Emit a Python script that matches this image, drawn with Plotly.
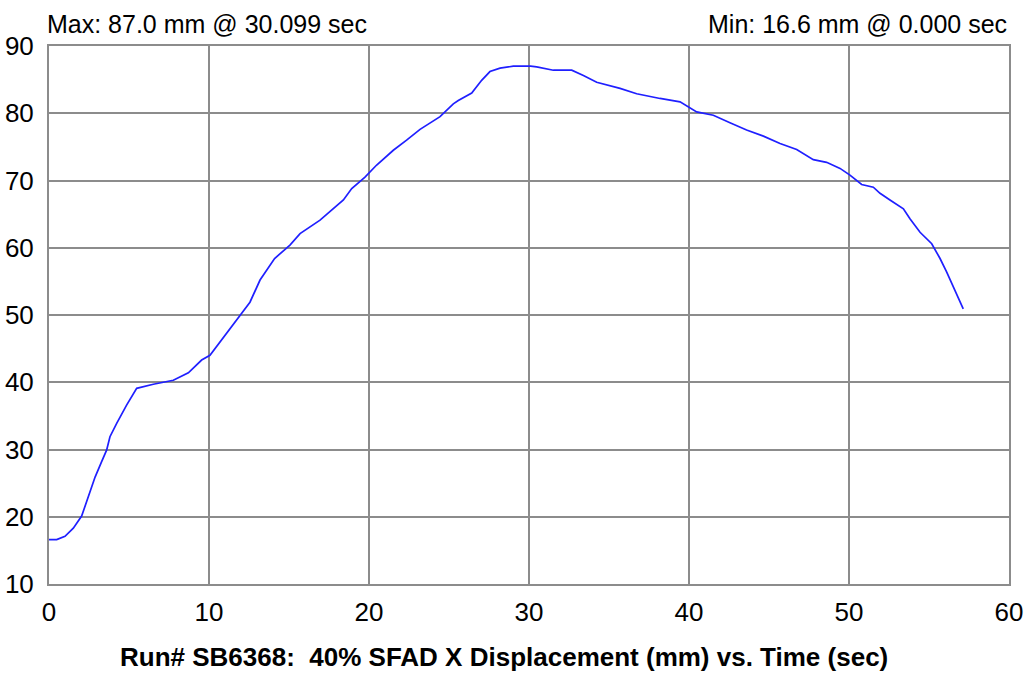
import plotly.graph_objects as go

time_s = [0.0, 0.48, 1.0, 1.52, 2.04, 2.56, 2.88, 3.29, 3.6, 3.81, 4.23, 4.85, 5.48,
          6.52, 7.77, 8.71, 9.54, 10.06, 10.48, 11.1, 11.94, 12.56, 13.19, 14.1, 15.06,
          15.69, 16.94, 17.77, 18.4, 18.92, 19.75, 20.48, 21.52, 22.35, 23.19, 24.44,
          25.27, 25.58, 26.42, 27.04, 27.56, 28.19, 29.02, 30.1, 30.48, 31.52, 32.67,
          33.4, 34.23, 35.69, 36.73, 38.19, 39.44, 40.48, 41.52, 42.56, 43.6, 44.65,
          45.69, 46.73, 47.77, 48.6, 49.44, 50.06, 50.79, 51.52, 51.94, 52.56, 53.4,
          53.81, 54.44, 55.17, 55.69, 56.1, 56.52, 57.14]
disp_mm = [16.6, 16.6, 17.1, 18.3, 20.1, 23.5, 25.9, 28.2, 29.9, 31.9, 33.9, 36.6, 39.1,
           39.7, 40.3, 41.4, 43.3, 44.0, 45.3, 47.2, 49.8, 51.9, 55.2, 58.4, 60.4,
           62.1, 64.1, 65.8, 67.1, 68.8, 70.5, 72.3, 74.5, 76.0, 77.6, 79.5,
           81.4, 81.9, 83.0, 84.9, 86.2, 86.7, 87.0, 87.0, 86.9, 86.4, 86.4,
           85.6, 84.6, 83.7, 82.9, 82.2, 81.7, 80.2, 79.7, 78.6, 77.5, 76.6,
           75.5, 74.6, 73.1, 72.7, 71.8, 70.8, 69.4, 69.0, 68.1, 67.1, 65.8,
           64.3, 62.3, 60.6, 58.4, 56.4, 54.2, 50.9]

x_ticks = [0, 10, 20, 30, 40, 50, 60]
y_ticks = [10, 20, 30, 40, 50, 60, 70, 80, 90]

title_text = "Run# SB6368:  40% SFAD X Displacement (mm) vs. Time (sec)"
max_text = "Max: 87.0 mm @ 30.099 sec"
min_text = "Min: 16.6 mm @ 0.000 sec"

FONT = "Liberation Sans, Arial, sans-serif"

fig = go.Figure()
fig.add_trace(go.Scatter(x=time_s, y=disp_mm, mode="lines",
                         line=dict(color="#1f1fff", width=1.7), showlegend=False))

axis_common = dict(showgrid=True, gridcolor="#8c8c8c", gridwidth=2,
                   showline=True, linecolor="#8c8c8c", linewidth=2, mirror=True,
                   zeroline=False, ticks="", automargin=False,
                   tickfont=dict(family=FONT, size=26, color="#000"))

fig.update_xaxes(range=[0, 60], tickvals=x_ticks, ticklabelstandoff=4, **axis_common)
fig.update_yaxes(range=[10, 90], tickvals=y_ticks, ticklabelstandoff=8, **axis_common)

fig.update_layout(
    width=1026, height=675,
    margin=dict(l=49, r=17, t=46, b=91),
    paper_bgcolor="white", plot_bgcolor="white",
    annotations=[
        dict(text=max_text, x=0, xref="paper", y=1, yref="paper", xanchor="left", yanchor="bottom",
             yshift=6, xshift=-4, showarrow=False, font=dict(family=FONT, size=25, color="#000")),
        dict(text=min_text, x=1, xref="paper", y=1, yref="paper", xanchor="right", yanchor="bottom",
             yshift=6, xshift=0, showarrow=False, font=dict(family=FONT, size=25, color="#000")),
        dict(text="<b>" + title_text + "</b>", x=0.5, xref="paper", y=-0.1357, yref="paper",
             yanchor="middle", showarrow=False, xshift=-25,
             font=dict(family=FONT, size=26, color="#000")),
    ],
)

fig.write_html("out.html", config={"displayModeBar": False},
               post_script="document.body.style.margin='0';document.body.style.overflow='hidden';")
